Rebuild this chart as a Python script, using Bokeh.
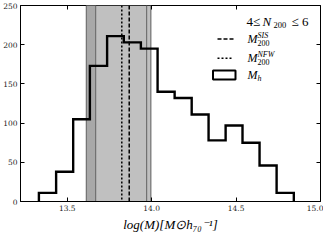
import numpy as np
from bokeh.plotting import figure
from bokeh.models import (BoxAnnotation, Span, Label, Arrow, LinearAxis,
                          FixedTicker, CustomJSTickFormatter)
from bokeh.embed import file_html
from bokeh.resources import INLINE

# ---- data ----
bin_edges = [13.332, 13.434, 13.535, 13.634, 13.736, 13.835, 13.936, 14.035,
             14.136, 14.237, 14.337, 14.438, 14.538, 14.639, 14.740, 14.842]
counts = [11, 38, 105, 173, 211, 203, 195, 140, 132, 111, 78, 97, 75, 46, 11]
m200_sis = 13.867
m200_nfw = 13.823
band_outer = [13.613, 13.995]
band_inner = [13.668, 13.970]
x_ticks = [13.5, 14.0, 14.5, 15.0]
x_tick_labels = ["13.5", "14.0", "14.5", "15.0"]
y_ticks = [0, 50, 100, 150, 200, 250]
x_limits = (13.223, 15.0)
y_limits = (0, 250)

FW, FH = 300, 196
SERIF = "DejaVu Serif"
MATH = "Liberation Serif"

p = figure(frame_width=FW, frame_height=FH, x_range=x_limits, y_range=y_limits,
           output_backend="svg", toolbar_location=None,
           min_border_left=0, min_border_right=3, min_border_top=5, min_border_bottom=0)
p.grid.visible = False
p.outline_line_color = "black"
p.outline_line_width = 1
p.background_fill_color = "white"
p.border_fill_color = "white"

# bands
p.add_layout(BoxAnnotation(left=band_outer[0], right=band_outer[1], fill_color="#c0c0c0",
                           fill_alpha=1, line_color=None, level="underlay"))
p.add_layout(BoxAnnotation(left=band_outer[0], right=band_inner[0], fill_color="#a8a8a8",
                           fill_alpha=1, line_color=None, level="underlay"))
for loc in band_outer + band_inner:
    p.add_layout(Span(location=loc, dimension="height", line_color="#707070",
                      line_width=1.2, level="underlay"))

# vertical mass lines
p.add_layout(Span(location=m200_sis, dimension="height", line_color="black",
                  line_width=1.5, line_dash="4 2", level="underlay"))
p.add_layout(Span(location=m200_nfw, dimension="height", line_color="black",
                  line_width=1.5, line_dash="2 2", level="underlay"))

# step histogram
xs = [bin_edges[0]]
ys = [0]
for i, c in enumerate(counts):
    xs += [bin_edges[i], bin_edges[i + 1]]
    ys += [c, c]
xs.append(bin_edges[-1])
ys.append(0)
p.line(xs, ys, line_color="black", line_width=2.4, line_join="miter")

# axes
for ax in (p.xaxis[0], p.yaxis[0]):
    ax.major_tick_in = 4
    ax.major_tick_out = 0
    ax.minor_tick_line_color = None
    ax.axis_line_color = "black"
    ax.major_tick_line_color = "black"
    ax.major_label_text_font = SERIF
    ax.major_label_text_font_size = "7.5px"
    ax.major_label_text_color = "#222222"
    ax.major_label_standoff = 3
p.xaxis.ticker = FixedTicker(ticks=x_ticks)
p.xaxis.major_label_overrides = {t: l for t, l in zip(x_ticks, x_tick_labels)}
p.yaxis.ticker = FixedTicker(ticks=y_ticks)
p.xaxis.axis_label = "log(M)[M\u2299h\u2087\u2080\u207b\u00b9]"
p.xaxis.axis_label_text_font = MATH
p.xaxis.axis_label_text_font_style = "italic"
p.xaxis.axis_label_text_font_size = "13px"
p.xaxis.axis_label_standoff = 3
p.xaxis.axis_label_text_color = "black"

empty = CustomJSTickFormatter(code="return ''")
top = LinearAxis(ticker=FixedTicker(ticks=x_ticks), formatter=empty, major_tick_in=4,
                 major_tick_out=0, minor_tick_line_color=None, axis_line_color=None,
                 major_label_standoff=0, major_label_text_font_size="1px")
right = LinearAxis(ticker=FixedTicker(ticks=y_ticks), formatter=empty, major_tick_in=4,
                   major_tick_out=0, minor_tick_line_color=None, axis_line_color=None,
                   major_label_standoff=0, major_label_text_font_size="1px")
p.add_layout(top, "above")
p.add_layout(right, "right")

# ---- legend (manual, in frame pixels from top-right) ----
R, T = FW, FH

def lab(text, dx, dy, size, italic=False, font=MATH):
    p.add_layout(Label(x=R + dx, y=T - dy, x_units="screen", y_units="screen",
                       text=text, text_font=font, text_font_size=f"{size}px",
                       text_font_style="italic" if italic else "normal",
                       text_align="left", text_baseline="middle", text_color="black"))

# title
lab("4\u2264", -74, 16, 13)
lab("N", -58, 16, 13, italic=True)
lab("200", -47, 19, 8.5)
lab("\u2264 6", -29, 16, 13)

# SIS row
p.add_layout(Arrow(x_start=R - 103, y_start=T - 33.5, x_end=R - 87, y_end=T - 33.5,
                   start_units="screen", end_units="screen", end=None,
                   line_color="black", line_width=1.5, line_dash="4 2"))
lab("M", -73, 33.5, 12, italic=True)
lab("SIS", -63, 29.5, 8, italic=True)
lab("200", -63, 37, 8)

# NFW row
p.add_layout(Arrow(x_start=R - 103, y_start=T - 52.7, x_end=R - 87, y_end=T - 52.7,
                   start_units="screen", end_units="screen", end=None,
                   line_color="black", line_width=1.5, line_dash="2 2"))
lab("M", -73, 52.7, 12, italic=True)
lab("NFW", -63, 48.5, 8, italic=True)
lab("200", -63, 56, 8)

# Mh row
p.add_layout(BoxAnnotation(left=R - 107.5, right=R - 85, top=T - 65, bottom=T - 74,
                           left_units="screen", right_units="screen",
                           top_units="screen", bottom_units="screen",
                           fill_color="white", fill_alpha=1, line_color="black",
                           line_alpha=1, line_width=2))
lab("M", -73, 69.3, 12, italic=True)
lab("h", -63, 72.5, 8, italic=True)

open("out.html", "w").write(file_html(p, INLINE))
